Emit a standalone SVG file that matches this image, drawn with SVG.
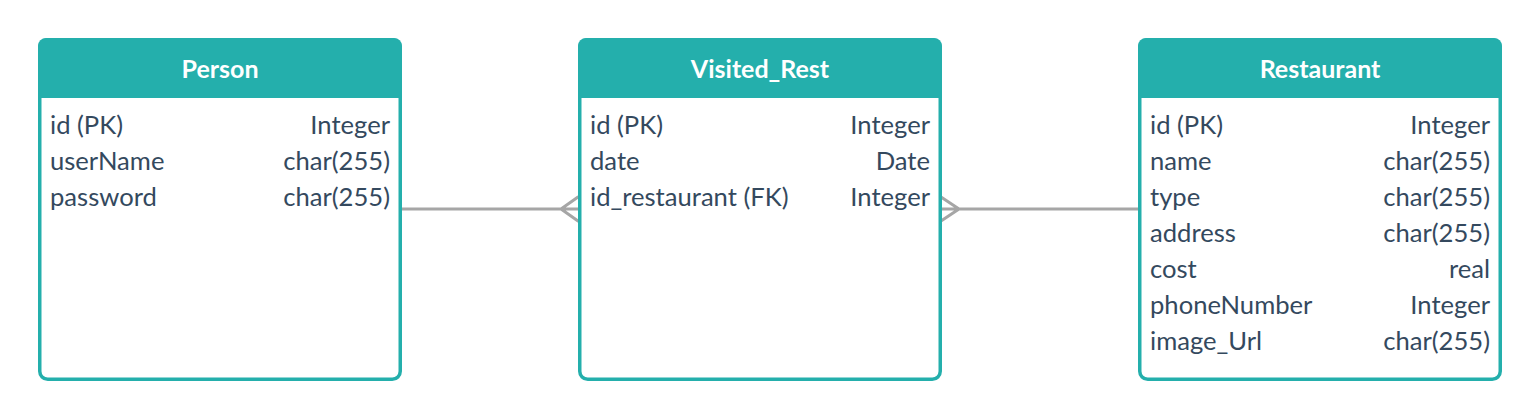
<svg xmlns="http://www.w3.org/2000/svg" width="1540" height="420" viewBox="0 0 1540 420">
<style>
.box{fill:#ffffff;stroke:#24afac;stroke-width:3.5}
.hdr{fill:#24afac}
.title{font-family:Lato,"Open Sans",sans-serif;font-weight:bold;font-size:25px;fill:#ffffff;text-anchor:middle}
.f{font-family:Lato,"Open Sans",sans-serif;font-size:25.6px;fill:#34495e}
.t{font-family:Lato,"Open Sans",sans-serif;font-size:25.6px;fill:#34495e;text-anchor:end}
.c{fill:none;stroke:#a6a6a6;stroke-width:3;stroke-linecap:round}
</style>
<g id="connectors">
<path class="c" d="M401,209 H578 M578,197 L561,209 L578,221"/>
<path class="c" d="M941,209 H1139 M941,197 L959,209 L941,221"/>
</g>
<g id="person">
<rect class="box" x="39.75" y="39.75" width="360.5" height="339.5" rx="8"/>
<path class="hdr" d="M38,98 V46 A8,8 0 0 1 46,38 H394 A8,8 0 0 1 402,46 V98 Z"/>
<text class="title" x="220" y="78">Person</text>
<text class="f" x="50" y="134">id (PK)</text><text class="t" x="390" y="134">Integer</text>
<text class="f" x="50" y="170">userName</text><text class="t" x="390" y="170">char(255)</text>
<text class="f" x="50" y="206">password</text><text class="t" x="390" y="206">char(255)</text>
</g>
<g id="visited_rest">
<rect class="box" x="579.75" y="39.75" width="360.5" height="339.5" rx="8"/>
<path class="hdr" d="M578,98 V46 A8,8 0 0 1 586,38 H934 A8,8 0 0 1 942,46 V98 Z"/>
<text class="title" x="760" y="78">Visited_Rest</text>
<text class="f" x="590" y="134">id (PK)</text><text class="t" x="930" y="134">Integer</text>
<text class="f" x="590" y="170">date</text><text class="t" x="930" y="170">Date</text>
<text class="f" x="590" y="206">id_restaurant (FK)</text><text class="t" x="930" y="206">Integer</text>
</g>
<g id="restaurant">
<rect class="box" x="1139.75" y="39.75" width="360.5" height="339.5" rx="8"/>
<path class="hdr" d="M1138,98 V46 A8,8 0 0 1 1146,38 H1494 A8,8 0 0 1 1502,46 V98 Z"/>
<text class="title" x="1320" y="78">Restaurant</text>
<text class="f" x="1150" y="134">id (PK)</text><text class="t" x="1490" y="134">Integer</text>
<text class="f" x="1150" y="170">name</text><text class="t" x="1490" y="170">char(255)</text>
<text class="f" x="1150" y="206">type</text><text class="t" x="1490" y="206">char(255)</text>
<text class="f" x="1150" y="242">address</text><text class="t" x="1490" y="242">char(255)</text>
<text class="f" x="1150" y="278">cost</text><text class="t" x="1490" y="278">real</text>
<text class="f" x="1150" y="314">phoneNumber</text><text class="t" x="1490" y="314">Integer</text>
<text class="f" x="1150" y="350">image_Url</text><text class="t" x="1490" y="350">char(255)</text>
</g>
</svg>
